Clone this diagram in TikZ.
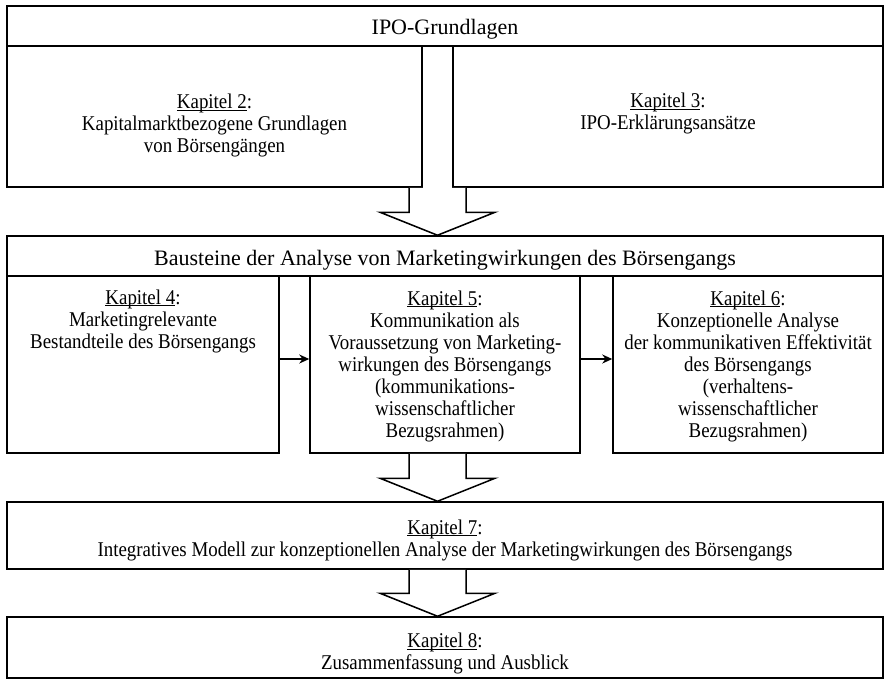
\documentclass[tikz,border=0pt]{standalone}
\usepackage{fontspec}
\setmainfont{Liberation Serif}[FakeStretch=0.9]
\newfontfamily\headfont{Liberation Serif}
\usetikzlibrary{calc,arrows.meta}

% Unterstreichung knapp unter der Grundlinie
\newcommand\kapul[1]{\setbox0\hbox{#1}\rlap{\rule[-2.2pt]{\wd0}{0.9pt}}\box0}

\tikzset{
	frame/.style={draw,line width=1.5pt,inner sep=0pt},
	txt/.style={align=center,inner sep=0pt,font=\fontsize{21}{22}\selectfont},
	headtxt/.style={inner sep=0pt,font=\headfont\fontsize{22}{24}\selectfont},
	blockarrow/.style={draw,line width=1.5pt,fill=white,to path={
		($(\tikztostart)+(-28.5pt,0pt)$) -- ($(\tikztotarget)+(-28.5pt,23pt)$) -- ($(\tikztotarget)+(-57.5pt,23pt)$) -- (\tikztotarget)
		-- ($(\tikztotarget)+(57.5pt,23pt)$) -- ($(\tikztotarget)+(28.5pt,23pt)$) -- ($(\tikztostart)+(28.5pt,0pt)$)}}
}

\begin{document}
\begin{tikzpicture}[x=1pt,y=-1pt]
	\useasboundingbox (0,0) rectangle (885,680);
	% Grundlagen
	\node[frame,minimum width=876pt,minimum height=40pt] (ipo) at (445,26) {};
	\node[frame,minimum width=415pt,minimum height=141pt] (kap2) at (214.5,116.5) {};
	\node[frame,minimum width=430pt,minimum height=141pt] (kap3) at (668,116.5) {};
	\node[headtxt] (ipotxt) at (445,29) {IPO-Grundlagen};
	\node[txt] (kap2txt) at (214.5,125.5) {\kapul{Kapitel 2}:\\Kapitalmarktbezogene Grundlagen\\von Börsengängen};
	\node[txt] (kap3txt) at (668,125.5) {\kapul{Kapitel 3}:\\IPO-Erklärungsansätze\\\strut};
	% Bausteine
	\node[frame,minimum width=876pt,minimum height=40pt] (bau) at (445,256) {};
	\node[frame,minimum width=272pt,minimum height=177pt] (kap4) at (143,364.5) {};
	\node[frame,minimum width=270pt,minimum height=177pt] (kap5) at (445,364.5) {};
	\node[frame,minimum width=270pt,minimum height=177pt] (kap6) at (748,364.5) {};
	\node[headtxt] (bautxt) at (445,260) {Bausteine der Analyse von Marketingwirkungen des Börsengangs};
	\node[txt] (kap4txt) at (143,321) {\kapul{Kapitel 4}:\\Marketingrelevante\\Bestandteile des Börsengangs};
	\node[txt] (kap5txt) at (445,366) {\kapul{Kapitel 5}:\\Kommunikation als\\Voraussetzung von Marketing-\\wirkungen des Börsengangs\\(kommunikations-\\wissenschaftlicher\\Bezugsrahmen)};
	\node[txt] (kap6txt) at (748,366) {\kapul{Kapitel 6}:\\Konzeptionelle Analyse\\der kommunikativen Effektivität\\des Börsengangs\\(verhaltens-\\wissenschaftlicher\\Bezugsrahmen)};
	\foreach \a/\b in {kap4/kap5,kap5/kap6}
	\draw[line width=1.5pt,-{Stealth[length=10pt,width=9pt]}] ([yshift=5.5pt]\a.east) -- ([yshift=5.5pt]\b.west);
	% Modell und Ausblick
	\node[frame,minimum width=876pt,minimum height=67pt] (kap7) at (445,535.5) {};
	\node[frame,minimum width=876pt,minimum height=61pt] (kap8) at (445,647.5) {};
	\node[txt] (kap7txt) at (445,540) {\kapul{Kapitel 7}:\\Integratives Modell zur konzeptionellen Analyse der Marketingwirkungen des Börsengangs};
	\node[txt] (kap8txt) at (445,653.5) {\kapul{Kapitel 8}:\\Zusammenfassung und Ausblick};
	% Blockpfeile
	\coordinate (mid) at ($(kap2.south east)!.5!(kap3.south west)$);
	\draw[blockarrow] (mid) to (mid |- bau.north);
	\draw[blockarrow] (mid |- kap5.south) to (mid |- kap7.north);
	\draw[blockarrow] (mid |- kap7.south) to (mid |- kap8.north);
\end{tikzpicture}
\end{document}
